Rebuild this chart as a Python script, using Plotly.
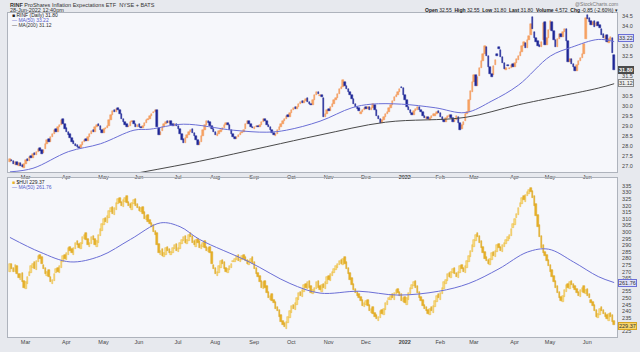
import numpy as np
import pandas as pd
import plotly.graph_objects as go

# ---------------- data ----------------
start_date = "2021-02-19"
end_date = "2022-06-28"
holidays = ["2021-04-02", "2021-05-31", "2021-07-05", "2021-09-06", "2021-11-25",
            "2021-12-24", "2022-01-17", "2022-02-21", "2022-04-15", "2022-05-30",
            "2022-06-20"]

rinf_close = [
    27.35, 27.25, 27.10, 27.20, 27.05, 27.15,
    27.00, 26.95, 27.10, 27.30, 27.25, 27.45, 27.40, 27.60, 27.55, 27.70, 27.85, 27.75, 27.60, 27.80, 28.10, 28.30, 28.20, 28.45, 28.60, 28.80, 28.70, 28.95, 29.05,
    29.30, 29.10, 28.85, 28.70, 28.55, 28.40, 28.20, 28.10, 28.00, 27.95, 27.90, 28.05, 28.20, 28.30, 28.25, 28.45, 28.60, 28.75, 28.70, 28.95, 29.05,
    29.00, 28.80, 28.65, 28.85, 28.90, 29.00, 29.30, 29.55, 29.75, 29.70, 29.85, 29.80, 29.60, 29.35, 29.20, 29.05, 28.95, 29.00, 29.20, 29.25,
    29.10, 28.95, 29.05, 28.95, 28.90, 29.00, 29.15, 29.30, 29.35, 29.50, 29.60, 29.70, 29.80, 28.95, 28.55, 28.70, 28.95, 29.10, 29.20, 29.15, 29.25, 29.05,
    29.00, 29.10, 29.00, 28.85, 28.60, 28.30, 28.15, 28.40, 28.55, 28.70, 28.80, 28.65, 28.50, 28.30, 28.05, 28.20, 28.50, 28.80, 29.05, 29.25, 29.15,
    29.00, 28.85, 28.70, 28.55, 28.60, 28.75, 28.80, 28.90, 29.05, 29.15, 29.05, 28.80, 28.60, 28.45, 28.35, 28.45, 28.55, 28.65, 28.70, 28.80, 29.10, 29.25,
    29.10, 28.95, 28.90, 28.95, 29.00, 28.95, 29.05, 29.20, 29.35, 29.25, 29.05, 28.95, 28.80, 28.65, 28.55, 28.60, 28.80, 28.95, 29.10, 29.25, 29.35,
    29.50, 29.45, 29.65, 29.80, 29.90, 29.85, 29.95, 30.10, 30.20, 30.15, 30.25, 30.35, 30.20, 30.10, 30.05, 30.30, 30.55, 30.70, 30.60, 30.55, 30.45,
    29.45, 29.60, 29.80, 29.75, 29.95, 30.10, 30.30, 30.40, 30.60, 30.85, 30.95, 31.30, 31.00, 30.85, 30.70, 30.55, 30.35, 30.10, 29.95, 29.85, 29.75,
    29.70, 29.80, 29.90, 29.85, 29.95, 29.80, 29.90, 30.10, 29.80, 29.50, 29.35, 29.15, 29.30, 29.45, 29.60, 29.70, 29.90, 30.05, 30.25, 30.45, 30.55, 30.70,
    30.85, 30.90, 30.55, 30.30, 29.95, 29.80, 29.65, 29.55, 29.75, 29.85, 29.95, 29.80, 29.70, 29.50, 29.40, 29.45, 29.35, 29.40, 29.50, 29.60,
    29.60, 29.70, 29.65, 29.45, 29.30, 29.20, 29.40, 29.50, 29.55, 29.40, 29.20, 29.30, 29.50, 29.15, 28.80, 29.05, 29.20, 29.60, 29.70,
    30.30, 30.75, 31.20, 31.55, 31.00, 31.45, 31.90, 32.25, 32.60, 33.00, 32.50, 31.95, 31.60, 31.45, 32.00, 32.30, 32.50, 32.85, 32.45, 32.15, 31.85, 31.90, 32.00,
    31.90, 32.05, 31.95, 32.15, 32.35, 32.50, 32.70, 33.00, 33.20, 32.90, 33.30, 33.50, 34.10, 33.85, 33.40, 33.20, 33.00, 32.95, 33.20, 34.15,
    33.05, 33.40, 33.80, 34.25, 33.75, 33.30, 32.95, 33.35, 33.60, 33.45, 33.70, 33.85, 33.25, 32.20, 32.35, 32.10, 31.95, 31.75, 32.05, 32.25, 32.40,
    32.60, 33.10, 34.40, 34.35, 34.20, 34.05, 34.20, 33.95, 34.15, 34.00, 33.90, 33.55, 33.40, 33.50, 33.20, 33.35, 33.45, 32.65, 31.80,
]
rinf_open = [
    27.20, 27.30, 27.25, 27.05, 27.20, 27.00,
    27.15, 27.05, 26.90, 27.10, 27.35, 27.25, 27.50, 27.40, 27.65, 27.55, 27.70, 27.90, 27.80, 27.65, 27.85, 28.10, 28.35, 28.20, 28.45, 28.60, 28.85, 28.70, 28.95,
    29.05, 29.35, 29.10, 28.90, 28.70, 28.60, 28.40, 28.25, 28.10, 28.05, 27.95, 27.90, 28.05, 28.20, 28.35, 28.25, 28.45, 28.60, 28.80, 28.70, 28.95,
    29.10, 29.00, 28.80, 28.65, 28.85, 28.90, 29.00, 29.30, 29.55, 29.80, 29.70, 29.90, 29.80, 29.60, 29.35, 29.20, 29.10, 28.95, 29.00, 29.20,
    29.25, 29.10, 28.95, 29.10, 28.95, 28.90, 29.00, 29.15, 29.30, 29.35, 29.50, 29.65, 29.70, 29.80, 28.90, 28.55, 28.75, 28.95, 29.10, 29.25, 29.15, 29.25,
    29.10, 29.00, 29.10, 29.00, 28.85, 28.60, 28.35, 28.15, 28.40, 28.55, 28.70, 28.85, 28.65, 28.50, 28.30, 28.05, 28.20, 28.50, 28.80, 29.05, 29.25,
    29.20, 29.00, 28.85, 28.70, 28.50, 28.60, 28.70, 28.80, 28.90, 29.05, 29.15, 29.05, 28.80, 28.60, 28.45, 28.35, 28.45, 28.55, 28.65, 28.70, 28.85, 29.10,
    29.25, 29.10, 28.95, 28.85, 28.95, 29.00, 28.95, 29.05, 29.20, 29.35, 29.25, 29.05, 28.95, 28.80, 28.65, 28.50, 28.60, 28.80, 28.95, 29.10, 29.25,
    29.35, 29.55, 29.45, 29.65, 29.80, 29.95, 29.85, 29.95, 30.10, 30.25, 30.15, 30.25, 30.40, 30.20, 30.10, 30.05, 30.30, 30.55, 30.70, 30.50, 30.55,
    30.40, 29.45, 29.60, 29.85, 29.75, 29.95, 30.10, 30.30, 30.40, 30.60, 30.85, 30.95, 31.20, 31.00, 30.85, 30.70, 30.55, 30.35, 30.10, 29.95, 29.90,
    29.60, 29.70, 29.80, 29.95, 29.85, 29.95, 29.80, 29.90, 30.05, 29.80, 29.50, 29.35, 29.15, 29.30, 29.45, 29.60, 29.70, 29.90, 30.05, 30.25, 30.45, 30.55,
    30.70, 30.95, 30.90, 30.55, 30.30, 29.95, 29.80, 29.65, 29.55, 29.75, 29.80, 29.95, 29.80, 29.70, 29.50, 29.35, 29.45, 29.30, 29.40, 29.50,
    29.50, 29.60, 29.75, 29.65, 29.45, 29.30, 29.20, 29.40, 29.45, 29.55, 29.40, 29.20, 29.30, 29.45, 29.15, 28.85, 29.05, 29.25, 29.60,
    29.70, 30.30, 30.70, 31.20, 31.55, 31.00, 31.50, 31.90, 32.25, 32.60, 32.95, 32.50, 31.95, 31.60, 31.55, 32.05, 32.60, 32.95, 32.80, 32.45, 32.15, 31.80, 32.05,
    31.85, 31.90, 32.10, 31.95, 32.15, 32.30, 32.50, 32.70, 33.00, 33.15, 32.90, 33.30, 33.55, 34.45, 33.70, 33.40, 33.25, 33.05, 32.95, 33.30,
    34.20, 33.05, 33.40, 33.80, 34.20, 33.75, 33.30, 32.95, 33.35, 33.60, 33.45, 33.70, 33.85, 33.25, 32.20, 32.35, 32.10, 31.95, 31.75, 32.05, 32.25,
    32.40, 32.60, 33.35, 34.55, 34.40, 34.25, 34.05, 34.25, 34.00, 34.20, 34.05, 33.85, 33.60, 33.35, 33.55, 33.15, 33.30, 33.40, 32.55,
]

hui_close = [
    276, 272, 270, 275, 268, 265,
    268, 262, 258, 262, 266, 270, 274, 276, 272, 278, 282, 280, 276, 272, 268, 270, 266, 262, 264, 268, 272, 270, 274,
    278, 282, 280, 284, 288, 286, 284, 288, 292, 290, 288, 292, 296, 298, 294, 290, 292, 296, 294, 290, 293,
    298, 302, 306, 310, 308, 312, 316, 318, 314, 318, 322, 325, 322, 320, 324, 326, 322, 320, 318, 322,
    324, 320, 318, 316, 318, 314, 310, 312, 308, 306, 304, 300, 298, 290, 284, 286, 282, 284, 288, 286, 284, 285,
    288, 290, 286, 288, 292, 294, 296, 292, 294, 298, 296, 292, 290, 294, 292, 288, 290, 292, 288, 286, 288,
    284, 276, 272, 268, 270, 274, 278, 276, 272, 270, 272, 274, 276, 278, 280, 282, 278, 280, 282, 280, 278, 276,
    278, 280, 276, 272, 268, 266, 262, 258, 262, 258, 254, 250, 252, 248, 246, 242, 240, 236, 232, 230, 228,
    232, 236, 240, 244, 242, 246, 250, 254, 252, 256, 260, 258, 262, 258, 254, 256, 258, 262, 258, 256, 260,
    258, 262, 266, 264, 268, 270, 272, 274, 276, 278, 276, 280, 276, 272, 268, 264, 260, 256, 254, 252, 250,
    248, 244, 246, 248, 244, 240, 242, 238, 236, 234, 236, 240, 238, 242, 246, 248, 250, 252, 250, 254, 256, 254,
    252, 248, 250, 246, 250, 254, 258, 260, 262, 258, 254, 250, 248, 244, 242, 240, 238, 242, 240, 244,
    248, 252, 250, 254, 258, 262, 264, 268, 266, 270, 272, 268, 266, 270, 274, 272, 270, 274, 278,
    282, 286, 290, 294, 298, 296, 292, 288, 284, 280, 278, 276, 280, 284, 282, 286, 290, 288, 286, 290, 292, 294, 296,
    298, 302, 306, 310, 314, 318, 322, 326, 324, 328, 330, 332, 330, 326, 320, 312, 304, 296, 288, 284,
    282, 278, 274, 270, 266, 262, 258, 254, 250, 248, 252, 256, 260, 258, 262, 260, 258, 256, 254, 252, 256,
    258, 254, 256, 252, 250, 246, 244, 240, 236, 238, 242, 240, 238, 236, 234, 238, 236, 232, 229.37,
]
hui_open = [
    270, 276, 273, 270, 274, 268,
    264, 269, 263, 257, 261, 267, 269, 273, 277, 271, 277, 283, 281, 275, 273, 267, 271, 266, 261, 263, 269, 273, 269,
    273, 277, 283, 279, 283, 289, 287, 283, 287, 293, 291, 287, 291, 295, 299, 295, 289, 291, 297, 295, 289,
    292, 297, 301, 305, 311, 307, 311, 315, 319, 313, 317, 321, 326, 323, 319, 323, 327, 323, 321, 317,
    321, 325, 321, 319, 315, 319, 315, 309, 313, 309, 307, 305, 301, 299, 291, 283, 287, 281, 283, 289, 287, 283,
    284, 287, 291, 285, 287, 291, 293, 297, 291, 293, 299, 297, 293, 289, 295, 293, 287, 289, 293, 289, 285,
    289, 285, 275, 273, 267, 269, 273, 279, 277, 273, 269, 271, 273, 277, 277, 279, 283, 277, 279, 283, 281, 279,
    275, 277, 281, 277, 273, 269, 267, 263, 257, 263, 259, 255, 249, 253, 249, 247, 243, 241, 237, 233, 231,
    227, 231, 235, 239, 245, 241, 245, 249, 255, 251, 255, 261, 257, 263, 259, 253, 255, 257, 263, 259, 255,
    261, 257, 261, 267, 263, 267, 269, 271, 273, 275, 279, 275, 281, 277, 273, 269, 265, 261, 257, 255, 253,
    251, 249, 243, 245, 249, 245, 239, 243, 239, 237, 233, 235, 241, 237, 241, 245, 249, 249, 253, 249, 253, 257,
    255, 253, 247, 251, 245, 249, 253, 257, 259, 263, 259, 255, 251, 249, 245, 243, 241, 237, 243, 239,
    243, 247, 253, 249, 253, 257, 261, 263, 269, 265, 269, 273, 269, 265, 269, 275, 273, 269, 273,
    277, 281, 285, 289, 293, 299, 297, 293, 289, 285, 281, 279, 275, 279, 285, 281, 285, 291, 289, 285, 289, 291, 293,
    295, 297, 303, 305, 311, 313, 319, 321, 327, 323, 327, 329, 333, 331, 327, 321, 313, 305, 297, 290,
    285, 283, 279, 275, 271, 267, 263, 259, 255, 251, 247, 251, 255, 261, 257, 263, 261, 259, 257, 255, 251,
    255, 259, 253, 257, 253, 249, 247, 245, 241, 235, 237, 243, 241, 239, 237, 233, 239, 237, 233,
]

# moving averages read at sample days (trading-day index, value)
rinf_ma50_day = [0, 13, 33, 51, 70, 79, 98, 126, 145, 156, 175, 193, 204, 221, 240, 257, 272, 287, 305, 317, 332, 341]
rinf_ma50_val = [26.72, 26.90, 27.73, 28.12, 28.80, 28.85, 29.10, 28.80, 28.70, 28.80, 29.25, 29.92, 30.10, 30.10,
                 29.92, 29.68, 30.26, 31.05, 32.50, 32.94, 33.33, 33.22]
rinf_ma200_day = [73, 107, 145, 175, 212, 257, 287, 332, 341]
rinf_ma200_val = [26.68, 27.25, 27.98, 28.56, 29.20, 29.44, 30.07, 30.90, 31.12]
hui_ma50_day = [0, 17, 34, 51, 68, 85, 96, 107, 135, 158, 175, 197, 219, 242, 259, 276, 292, 304, 318, 332, 341]
hui_ma50_val = [295.9, 284.8, 277.4, 281.8, 294.4, 306.9, 304.0, 294.4, 277.4, 261.1, 253.8, 255.2, 252.3, 255.2,
                261.1, 272.2, 284.8, 287.0, 277.4, 266.3, 261.76]

rinf_ticks = [27.0, 27.5, 28.0, 28.5, 29.0, 29.5, 30.0, 30.5, 31.5, 32.5, 33.0, 34.0, 34.5]
hui_ticks = [225, 235, 240, 245, 250, 255, 265, 270, 275, 280, 285, 290, 295, 300, 305, 310, 315,
             320, 325, 330, 335]
month_names = ["Jan", "Feb", "Mar", "Apr", "May", "Jun", "Jul", "Aug", "Sep", "Oct", "Nov", "Dec"]

# ---------------- build ----------------
n = len(rinf_close)
days = pd.bdate_range(start_date, end_date)
days = days[~days.isin(pd.to_datetime(holidays))][:n]
idx = np.arange(n)

tickvals, ticktext = [], []
for i in range(1, len(days)):
    if days[i].month != days[i - 1].month:
        tickvals.append(i)
        if days[i].month == 1:
            ticktext.append("<b>%d</b>" % days[i].year)
        else:
            ticktext.append(month_names[days[i].month - 1])

ro, rc = np.array(rinf_open), np.array(rinf_close)
ho, hc = np.array(hui_open, dtype=float), np.array(hui_close, dtype=float)

FONT = "Liberation Sans, Arial, sans-serif"
W, H = 640, 352
L, R, T, B = 7, 620, 13, 345   # plot-area pixel box


def px(x):
    return (x - L) / (R - L)


def py(y):
    return (B - y) / (B - T)


def body_bars(o, c, up_fill, up_line, dn_fill, dn_line, xa, ya, minh):
    out = []
    for mask, fill, line in ((c >= o, up_fill, up_line), (c < o, dn_fill, dn_line)):
        lo = np.minimum(o, c)[mask]
        h = np.maximum(np.abs(c - o)[mask], minh)
        out.append(go.Bar(x=idx[mask], y=h, base=lo, width=0.82,
                          marker=dict(color=fill, line=dict(color=line, width=0.5)),
                          xaxis=xa, yaxis=ya, hoverinfo="skip", showlegend=False))
    return out


fig = go.Figure()
for t in body_bars(ro, rc, "#f7a463", "#f29150", "#1e2796", "#1e2796", "x", "y", 0.04):
    fig.add_trace(t)
fig.add_trace(go.Scatter(x=rinf_ma50_day, y=rinf_ma50_val, mode="lines", line=dict(color="#6b6fd6", width=1, shape="spline"),
                         xaxis="x", yaxis="y", hoverinfo="skip", showlegend=False))
fig.add_trace(go.Scatter(x=rinf_ma200_day, y=rinf_ma200_val, mode="lines", line=dict(color="#4a4a4a", width=1, shape="spline"),
                         xaxis="x", yaxis="y", hoverinfo="skip", showlegend=False))

for t in body_bars(ho, hc, "#f8dc86", "#e9b733", "#e8b22a", "#d9a41c", "x2", "y2", 0.8):
    fig.add_trace(t)
fig.add_trace(go.Scatter(x=hui_ma50_day, y=hui_ma50_val, mode="lines", line=dict(color="#6b6fd6", width=1, shape="spline"),
                         xaxis="x2", yaxis="y2", hoverinfo="skip", showlegend=False))

xr = [-1.1, n + 0.6]
top_dom = [py(176), 1]
bot_dom = [0, py(182)]
axis_common = dict(showgrid=False, zeroline=False, showline=True, mirror=True, linecolor="#aeb3bc", linewidth=1)
xcommon = dict(range=xr, tickmode="array", tickvals=tickvals, ticktext=ticktext, ticks="",
               tickfont=dict(size=5.5, color="#444", family=FONT),
               ticklabelshift=5, ticklabelstandoff=-1, **axis_common)
ycommon = dict(side="right", ticks="", tickfont=dict(size=5.5, color="#444", family=FONT), ticklabelstandoff=3, **axis_common)

fig.update_layout(
    width=W, height=H, margin=dict(l=L, r=W - R, t=T, b=H - B),
    paper_bgcolor="#e7e9ee", plot_bgcolor="#f6f7fb", font=dict(family=FONT), barmode="overlay", bargap=0,
    xaxis=dict(domain=[0, 1], anchor="y", **xcommon),
    yaxis=dict(domain=top_dom, anchor="x", range=[26.71, 34.65], tickmode="array", tickvals=rinf_ticks,
               ticktext=["%.1f" % v for v in rinf_ticks], **ycommon),
    xaxis2=dict(domain=[0, 1], anchor="y2", **xcommon),
    yaxis2=dict(domain=bot_dom, anchor="x2", range=[220.6, 340.9], tickmode="array", tickvals=hui_ticks,
                ticktext=[str(v) for v in hui_ticks], **ycommon),
)

ann = []


def text(x, y, s, size=5.5, color="#222", anchor="left", **kw):
    ann.append(dict(x=px(x), y=py(y), xref="paper", yref="paper", text=s, showarrow=False,
                    xanchor=anchor, yanchor="middle", font=dict(size=size, color=color, family=FONT), **kw))


text(7, 4.5, "<b>RINF</b> ProShares Inflation Expectations ETF  NYSE + BATS", 5.5, "#333")
text(7, 10, "28-Jun-2022 12:40pm", 5.5, "#333")
text(623, 3.5, "@StockCharts.com", 5, "#777", "right")
text(623, 10, "<b>Open</b> 32.55  <b>High</b> 32.55  <b>Low</b> 31.80  <b>Last</b> 31.80  <b>Volume</b> 4,572  "
              "<b>Chg</b> -0.85 (-2.60%) \u25be", 5, "#222", "right")

text(9, 15.5, "<span style='color:#222'>\u25a0</span> RINF (Daily) 31.80", 5, "#222")
text(9, 20.5, "\u2014 MA(50) 33.22", 5, "#5558c8")
text(9, 25.5, "\u2014 MA(200) 31.12", 5, "#333")
text(9, 186.5, "<span style='color:#e8b22a'>\u25a0</span> $HUI 229.37", 5, "#222")
text(9, 191.5, "\u2014 MA(50) 261.76", 5, "#5558c8")

text(621, 39, "33.22", 5.5, "#333", bgcolor="#dfe0f7", bordercolor="#6b6fd6", borderwidth=1, borderpad=0)
text(621, 71, "<b>31.80</b>", 5.5, "#ffffff", bgcolor="#4b4b4b", bordercolor="#4b4b4b", borderwidth=1, borderpad=0)
text(621, 85, "31.12", 5.5, "#333", bgcolor="#eeeeee", bordercolor="#888888", borderwidth=1, borderpad=0)
text(621, 290, "261.76", 5.5, "#333", bgcolor="#dfe0f7", bordercolor="#6b6fd6", borderwidth=1, borderpad=0)
text(621, 334, "229.37", 5.5, "#333", bgcolor="#f6d56a", bordercolor="#d8a520", borderwidth=1, borderpad=0)

fig.update_layout(annotations=ann)
fig.write_html("out.html")
